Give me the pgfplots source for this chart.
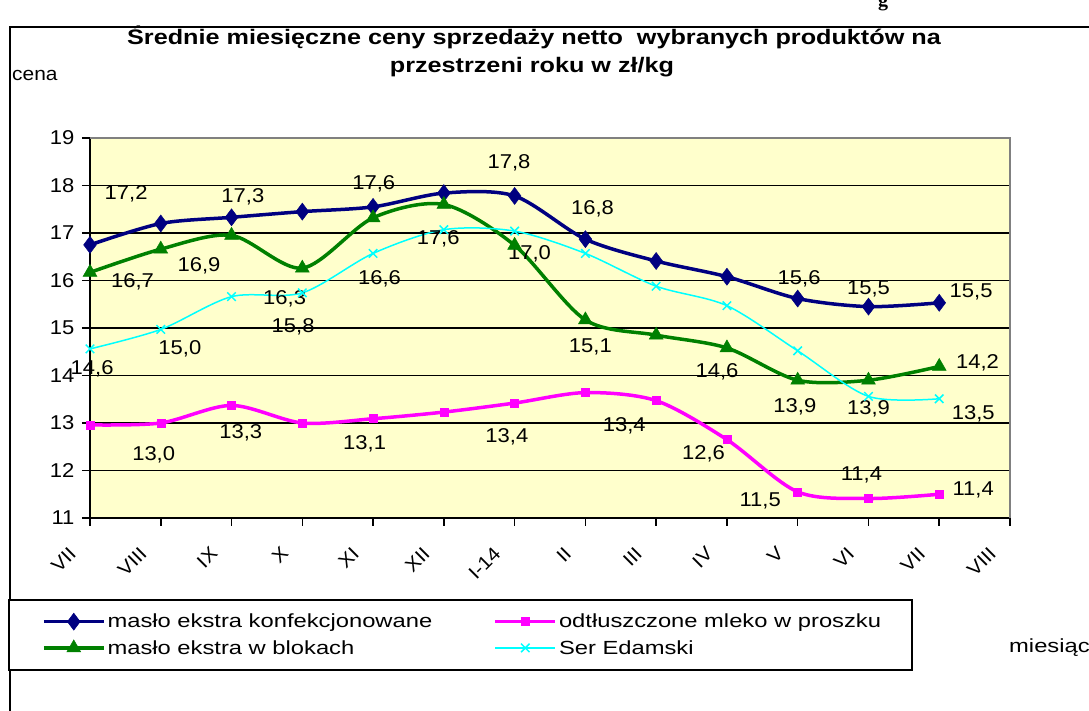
\documentclass[border=0pt]{standalone}
\usepackage{fontspec}
\setmainfont{Liberation Sans}
\newfontfamily\titlefont{Liberation Sans}[FakeStretch=1.2]
\newfontfamily\lblfont{Liberation Sans}[FakeStretch=1.1]
\newfontfamily\legfont{Liberation Sans}[FakeStretch=1.25]
\newfontfamily\serifb{Liberation Serif}
\usepackage{pgfplots}
\pgfplotsset{compat=1.18}
\definecolor{navyc}{HTML}{000080}
\definecolor{greenc}{HTML}{008000}
\definecolor{magc}{HTML}{FF00FF}
\definecolor{cyanc}{HTML}{00FFFF}
\definecolor{bgyellow}{HTML}{FFFFCC}
\newcommand{\dl}{\lblfont\fontsize{20}{24}\selectfont}

\begin{document}
\begin{tikzpicture}
\useasboundingbox (0pt,0pt) rectangle (1089pt,711pt);
% outer frame of the chart
\draw[line width=2.5pt] (10pt,-5pt) -- (10pt,684pt) -- (1095pt,684pt);
\node[font=\serifb\bfseries\fontsize{20}{24}\selectfont, anchor=base] at (883pt,704pt) {g};

\node[font=\titlefont\bfseries\fontsize{21}{25}\selectfont, anchor=base] at (534pt,666pt)
  {Średnie miesięczne ceny sprzedaży netto\ \ wybranych produktów na};
\node[font=\titlefont\bfseries\fontsize{21}{25}\selectfont, anchor=base] at (532pt,638pt)
  {przestrzeni roku w zł/kg};
\node[font=\lblfont\fontsize{19}{22}\selectfont, anchor=base west, inner sep=0pt] at (12pt,630pt) {cena};
\node[font=\legfont\fontsize{19}{22}\selectfont, anchor=base west, inner sep=0pt] at (1009pt,58pt) {miesiąc};

\begin{axis}[
  at={(90pt,193pt)}, anchor=south west, scale only axis,
  width=920pt, height=380pt,
  xmin=0, xmax=13, ymin=11, ymax=19,
  clip=false,
  xtick={0,...,13},
  xticklabels={VII,VIII,IX,X,XI,XII,I-14,II,III,IV,V,VI,VII,VIII},
  ytick={11,...,19},
  axis x line*=bottom, axis y line*=left,
  axis line style={black, line width=2pt},
  tick align=outside, major tick length=8pt,
  tick style={black, line width=1.5pt},
  ymajorgrids, grid style={black, line width=1.8pt},
  axis background/.style={fill=bgyellow},
  /pgf/number format/assume math mode=true,
  yticklabel style={font=\lblfont\fontsize{20}{24}\selectfont, xshift=-4pt},
  xticklabel style={font=\lblfont\fontsize{19}{22}\selectfont, xshift=-15pt, yshift=-22pt, rotate=45, anchor=east},
  legend columns=2,
  legend cell align=left,
  legend style={at={(-0.0891,-0.2132)}, anchor=north west, draw=black, line width=2pt,
    fill=white, font=\legfont\fontsize{19}{22}\selectfont,
    inner xsep=33pt, inner ysep=12pt, row sep=7pt,
    /tikz/every even column/.append style={column sep=0pt}},
  legend image code/.code={\draw[mark repeat=2,mark phase=2,#1]
    plot coordinates {(0pt,0pt) (30pt,0pt) (60pt,0pt)};},
]
\addplot[navyc, line width=3.5pt, smooth, tension=0.5, mark=diamond*, mark size=8.5pt,
  mark options={solid, line width=0.5pt}] coordinates {
  (0,16.75) (1,17.20) (2,17.33) (3,17.45) (4,17.55) (5,17.84) (6,17.78)
  (7,16.87) (8,16.41) (9,16.08) (10,15.62) (11,15.45) (12,15.53)};
\addlegendentry{\makebox[384pt][l]{masło ekstra konfekcjonowane}}
\addplot[magc, line width=3.5pt, smooth, tension=0.5, mark=square*, mark size=4pt,
  mark options={solid, line width=0.5pt}] coordinates {
  (0,12.96) (1,13.00) (2,13.37) (3,13.00) (4,13.09) (5,13.23) (6,13.42)
  (7,13.64) (8,13.47) (9,12.65) (10,11.55) (11,11.41) (12,11.50)};
\addlegendentry{\makebox[318pt][l]{odtłuszczone mleko w proszku}}
\addplot[greenc, line width=3.5pt, smooth, tension=0.5, mark=triangle*, mark size=8pt,
  mark options={solid, line width=0.5pt}] coordinates {
  (0,16.17) (1,16.66) (2,16.95) (3,16.26) (4,17.32) (5,17.60) (6,16.74)
  (7,15.17) (8,14.85) (9,14.58) (10,13.90) (11,13.90) (12,14.19)};
\addlegendentry{masło ekstra w blokach}
\addplot[cyanc, line width=1.5pt, smooth, tension=0.5, mark=x, mark size=6pt,
  mark options={solid, line width=1.5pt}] coordinates {
  (0,14.56) (1,14.97) (2,15.66) (3,15.74) (4,16.57) (5,17.07) (6,17.04)
  (7,16.57) (8,15.88) (9,15.47) (10,14.52) (11,13.56) (12,13.51)};
\addlegendentry{Ser Edamski}

% grey border of the plot area
\draw[gray, line width=2pt] (rel axis cs:0,1) -- (rel axis cs:1,1) -- (rel axis cs:1,0);

% data labels
\begin{scope}[every node/.style={font=\dl, inner sep=0pt}]
\node at (axis cs:0.51,17.82) {17,2};
\node at (axis cs:2.16,17.76) {17,3};
\node at (axis cs:4.01,18.04) {17,6};
\node at (axis cs:5.92,18.48) {17,8};
\node at (axis cs:7.10,17.50) {16,8};
\node at (axis cs:10.02,16.03) {15,6};
\node at (axis cs:11.00,15.83) {15,5};
\node at (axis cs:12.45,15.75) {15,5};
\node at (axis cs:0.60,15.97) {16,7};
\node at (axis cs:1.54,16.30) {16,9};
\node at (axis cs:2.75,15.61) {16,3};
\node at (axis cs:4.09,16.03) {16,6};
\node at (axis cs:4.92,16.88) {17,6};
\node at (axis cs:6.21,16.57) {17,0};
\node at (axis cs:7.07,14.61) {15,1};
\node at (axis cs:8.86,14.07) {14,6};
\node at (axis cs:9.96,13.35) {13,9};
\node at (axis cs:11.00,13.29) {13,9};
\node at (axis cs:12.54,14.26) {14,2};
\node at (axis cs:1.27,14.56) {15,0};
\node at (axis cs:2.87,15.03) {15,8};
\node at (axis cs:0.03,14.15) {14,6};
\node at (axis cs:12.48,13.19) {13,5};
\node at (axis cs:0.90,12.33) {13,0};
\node at (axis cs:2.13,12.79) {13,3};
\node at (axis cs:3.88,12.56) {13,1};
\node at (axis cs:5.89,12.70) {13,4};
\node at (axis cs:7.55,12.94) {13,4};
\node at (axis cs:8.67,12.35) {12,6};
\node at (axis cs:9.47,11.35) {11,5};
\node at (axis cs:10.90,11.91) {11,4};
\node at (axis cs:12.48,11.60) {11,4};
\end{scope}
\end{axis}
\end{tikzpicture}
\end{document}
